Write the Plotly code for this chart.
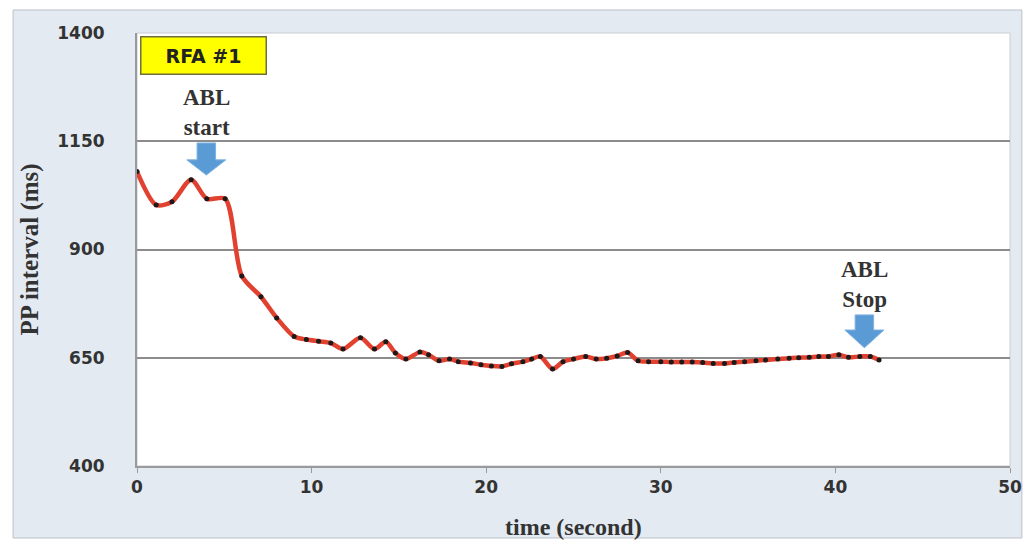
import plotly.graph_objects as go

# ---- data ----
time_s = [0, 1.1, 2.0, 3.1, 4.0, 5.05, 6.0, 7.1, 8.0, 9.0, 9.7, 10.4, 11.1, 11.8,
          12.8, 13.6, 14.25, 14.8, 15.4, 16.2, 16.7, 17.3, 17.9, 18.4, 19.1, 19.7,
          20.3, 20.9, 21.45, 22.1, 22.6, 23.1, 23.8, 24.4, 25.0, 25.7, 26.3, 26.9,
          27.5, 28.1, 28.7, 29.3, 30.0, 30.6, 31.2, 31.8, 32.4, 33.0, 33.65, 34.2,
          34.8, 35.45, 36.0, 36.7, 37.35, 37.9, 38.5, 39.05, 39.6, 40.2, 40.75,
          41.4, 42.0, 42.5]
pp_ms = [1080, 1003, 1010, 1061, 1017, 1017, 839, 791, 742, 699, 692, 688, 684, 670,
         696, 670, 687, 661, 647, 663, 657, 643, 647, 641, 638, 634,
         631, 630, 636, 641, 647, 653, 624, 641, 647, 653, 647, 649,
         654, 662, 643, 641, 641, 640, 640, 640, 639, 637, 637, 639,
         641, 643, 645, 647, 649, 650, 651, 653, 653, 657, 651,
         653, 653, 645]

y_ticks = [400, 650, 900, 1150, 1400]
x_ticks = [0, 10, 20, 30, 40, 50]

# event markers (data units): label, centre time, arrow top, head start, tip
events = [("ABL<br>start", 3.97, 1146, 1107, 1072),
          ("ABL<br>Stop", 41.66, 749, 714, 673)]

SERIF = "Liberation Serif"
SANS = "DejaVu Sans"
TXT = "#333333"

fig = go.Figure()
fig.add_trace(go.Scatter(
    x=time_s, y=pp_ms, mode="lines+markers",
    line=dict(color="#E2412F", width=4.5, shape="spline", smoothing=0.8),
    marker=dict(color="#1a1a1a", size=5),
    showlegend=False, hoverinfo="x+y"))

shapes = []
# outer light panel
shapes.append(dict(type="rect", xref="paper", yref="paper",
                   x0=-0.1419, x1=1.0136, y0=-0.1663, y1=1.0531,
                   fillcolor="#E3EAF2", line=dict(color="#B9C0C8", width=1),
                   layer="below"))
# white plot area
shapes.append(dict(type="rect", xref="paper", yref="paper",
                   x0=0, x1=1, y0=0, y1=1, fillcolor="white",
                   line=dict(color="#C8CCD2", width=1), layer="below"))


def arrow_path(cx, ytop, yhead, ytip, body_hw=0.53, head_hw=1.12):
    return (f"M {cx-body_hw},{ytop} L {cx+body_hw},{ytop} L {cx+body_hw},{yhead} "
            f"L {cx+head_hw},{yhead} L {cx},{ytip} L {cx-head_hw},{yhead} "
            f"L {cx-body_hw},{yhead} Z")


annotations = []
for label, cx, ytop, yhead, ytip in events:
    shapes.append(dict(type="path", xref="x", yref="y",
                       path=arrow_path(cx, ytop, yhead, ytip),
                       fillcolor="#5B9BD5", line=dict(color="#7FB2E0", width=1),
                       layer="above"))
    annotations.append(dict(x=cx, y=ytop + 2, xref="x", yref="y", text=label,
                            showarrow=False, yanchor="bottom", xanchor="center",
                            font=dict(family=SERIF, size=23, color=TXT, weight="bold"),
                            align="center"))

annotations.append(dict(x=0.0766, y=0.948, xref="paper", yref="paper",
                        text="RFA #1", showarrow=False,
                        font=dict(family=SANS, size=19, color="#222222", weight="bold"),
                        bgcolor="#FFFF00", bordercolor="#6E6E3A", borderwidth=1.5,
                        borderpad=7, xanchor="center", yanchor="middle",
                        width=110))
annotations.append(dict(x=-0.1237, y=0.5, xref="paper", yref="paper",
                        text="PP interval (ms)", showarrow=False, textangle=-90,
                        font=dict(family=SERIF, size=25, color=TXT, weight="bold"),
                        xanchor="center", yanchor="middle"))
annotations.append(dict(x=0.5, y=-0.141, xref="paper", yref="paper",
                        text="time (second)", showarrow=False,
                        font=dict(family=SERIF, size=24, color=TXT, weight="bold"),
                        xanchor="center", yanchor="middle"))

fig.update_layout(
    width=1034, height=543,
    margin=dict(l=137, r=16, t=33, b=77),
    paper_bgcolor="white", plot_bgcolor="white",
    shapes=shapes, annotations=annotations,
    xaxis=dict(range=[0, 50], tickvals=x_ticks, showgrid=False, zeroline=False,
               showline=True, linecolor="#9A9A9A", linewidth=2,
               ticks="outside", ticklen=5, tickcolor="#9A9A9A",
               tickfont=dict(family=SANS, size=17, color=TXT, weight="bold")),
    yaxis=dict(range=[400, 1400], tickvals=y_ticks, showgrid=True,
               gridcolor="#8C8C8C", gridwidth=1.5, zeroline=False,
               showline=True, linecolor="#9A9A9A", linewidth=2, ticks="",
               ticklabelstandoff=27,
               tickfont=dict(family=SANS, size=17, color=TXT, weight="bold")),
)

fig.write_html("out.html")
